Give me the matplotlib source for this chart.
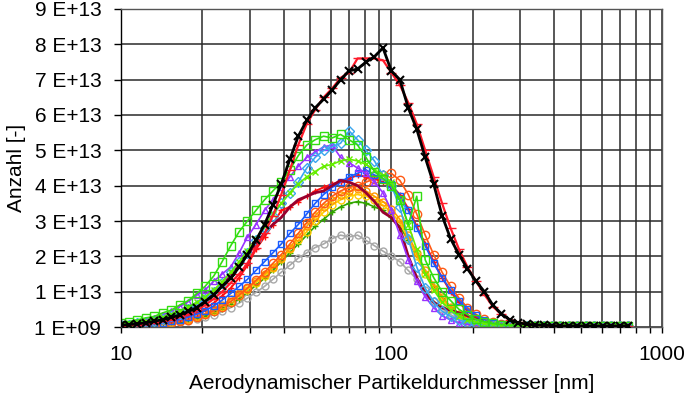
import matplotlib
matplotlib.use("Agg")
import matplotlib.pyplot as plt
from matplotlib.ticker import FixedLocator, NullFormatter, LogLocator

# Channel diameters [nm] (32 channels per decade, 10 .. 750 nm)
diam = [10.0, 10.7, 11.5, 12.4, 13.3, 14.3, 15.4, 16.5, 17.8, 19.1,
        20.5, 22.1, 23.7, 25.5, 27.4, 29.4, 31.6, 34.0, 36.5, 39.2,
        42.2, 45.3, 48.7, 52.3, 56.2, 60.4, 64.9, 69.8, 75.0, 80.6,
        86.6, 93.1, 100.0, 107.5, 115.5, 124.1, 133.4, 143.3, 154.0, 165.5,
        177.8, 191.1, 205.4, 220.7, 237.1, 254.8, 273.8, 294.3, 316.2, 339.8,
        365.2, 392.4, 421.7, 453.2, 487.0, 523.3, 562.3, 604.3, 649.4, 697.8,
        749.9]

# Counts in units of 1E13
black = [0.05, 0.07, 0.09, 0.12, 0.16, 0.21, 0.27, 0.34, 0.44, 0.55,
         0.72, 0.92, 1.15, 1.38, 1.70, 2.05, 2.45, 2.90, 3.45, 4.05,
         4.75, 5.40, 5.85, 6.20, 6.45, 6.70, 7.00, 7.25, 7.30, 7.50,
         7.65, 7.90, 7.25, 7.00, 6.20, 5.60, 4.80, 4.05, 3.15, 2.50,
         2.05, 1.65, 1.30, 1.00, 0.62, 0.38, 0.20, 0.12, 0.08, 0.06,
         0.05, 0.04, 0.03, 0.03, 0.03, 0.03, 0.03, 0.03, 0.03, 0.03,
         0.03]
red = [0.04, 0.05, 0.07, 0.09, 0.12, 0.16, 0.21, 0.28, 0.36, 0.47,
       0.62, 0.80, 1.00, 1.25, 1.50, 1.80, 2.25, 2.65, 3.15, 3.75,
       4.45, 5.15, 5.75, 6.15, 6.50, 6.75, 7.05, 7.20, 7.60, 7.60,
       7.60, 7.55, 7.20, 6.85, 6.35, 5.75, 5.00, 4.25, 3.50, 2.80,
       2.20, 1.70, 1.30, 0.92, 0.58, 0.36, 0.21, 0.13, 0.08, 0.06,
       0.05, 0.04, 0.03, 0.03, 0.03, 0.03, 0.03, 0.03, 0.03, 0.03,
       0.03]
green_sq = [0.12, 0.15, 0.20, 0.26, 0.30, 0.40, 0.48, 0.62, 0.75, 0.95,
            1.15, 1.45, 1.85, 2.30, 2.70, 3.00, 3.30, 3.60, 3.85, 4.10,
            4.45, 4.85, 5.15, 5.30, 5.40, 5.35, 5.45, 5.30, 5.15, 4.80,
            4.40, 4.20, 4.00, 3.60, 2.90, 3.70, 1.90, 1.40, 1.00, 0.75,
            0.50, 0.35, 0.22, 0.15, 0.10, 0.07, 0.05, 0.04, 0.04, 0.04,
            0.04, 0.04, 0.04, 0.04, 0.04, 0.04, 0.04, 0.04, 0.04, 0.04,
            0.04]
light_blue = [0.05, 0.07, 0.10, 0.13, 0.17, 0.22, 0.30, 0.38, 0.50, 0.63,
              0.80, 1.00, 1.25, 1.55, 1.85, 2.10, 2.45, 2.80, 3.15, 3.50,
              3.80, 4.10, 4.50, 4.80, 5.00, 5.10, 5.20, 5.55, 5.30, 5.00,
              4.70, 4.30, 4.00, 3.40, 2.50, 1.70, 1.10, 0.70, 0.45, 0.30,
              0.20, 0.12, 0.08, 0.05, 0.04, 0.03, 0.03, 0.03, 0.03, 0.03,
              0.03, 0.03, 0.03, 0.03, 0.03, 0.03, 0.03, 0.03, 0.03, 0.03,
              0.03]
purple = [0.06, 0.10, 0.14, 0.20, 0.26, 0.34, 0.44, 0.58, 0.72, 0.90,
          1.05, 1.30, 1.50, 1.70, 2.10, 2.55, 2.90, 3.30, 3.60, 3.95,
          4.25, 4.55, 4.80, 4.95, 5.10, 5.15, 4.80, 4.65, 4.50, 4.35,
          4.10, 3.80, 3.30, 2.60, 1.90, 1.30, 0.85, 0.55, 0.32, 0.20,
          0.12, 0.08, 0.05, 0.03, 0.03, 0.03, 0.03, 0.03, 0.03, 0.03,
          0.03, 0.03, 0.03, 0.03, 0.03, 0.03, 0.03, 0.03, 0.03, 0.03,
          0.03]
lime = [0.08, 0.10, 0.13, 0.17, 0.22, 0.28, 0.36, 0.45, 0.56, 0.70,
        0.85, 1.05, 1.28, 1.55, 1.85, 2.15, 2.50, 2.85, 3.20, 3.50,
        3.80, 4.05, 4.25, 4.40, 4.55, 4.60, 4.70, 4.75, 4.70, 4.60,
        4.45, 4.30, 4.10, 3.60, 2.90, 2.20, 1.50, 1.05, 0.70, 0.48,
        0.32, 0.20, 0.14, 0.10, 0.08, 0.06, 0.05, 0.05, 0.05, 0.05,
        0.05, 0.05, 0.05, 0.05, 0.05, 0.05, 0.05, 0.05, 0.05, 0.05,
        0.05]
blue_sq = [0.03, 0.04, 0.05, 0.07, 0.09, 0.12, 0.16, 0.21, 0.28, 0.36,
           0.46, 0.60, 0.76, 0.95, 1.15, 1.35, 1.60, 1.85, 2.10, 2.35,
           2.65, 2.90, 3.20, 3.50, 3.75, 3.95, 4.10, 4.25, 4.35, 4.45,
           4.30, 4.20, 4.05, 3.70, 3.30, 2.80, 2.30, 1.80, 1.40, 1.05,
           0.75, 0.50, 0.33, 0.20, 0.12, 0.08, 0.05, 0.04, 0.04, 0.04,
           0.04, 0.04, 0.04, 0.04, 0.04, 0.04, 0.04, 0.04, 0.04, 0.04,
           0.04]
orange_red = [0.02, 0.03, 0.04, 0.05, 0.07, 0.09, 0.12, 0.16, 0.21, 0.28,
              0.36, 0.46, 0.58, 0.72, 0.90, 1.10, 1.32, 1.55, 1.80, 2.05,
              2.35, 2.65, 2.95, 3.25, 3.50, 3.70, 3.85, 3.95, 4.00, 4.10,
              4.20, 4.30, 4.35, 4.15, 3.75, 3.20, 2.60, 2.05, 1.55, 1.15,
              0.82, 0.55, 0.36, 0.22, 0.14, 0.09, 0.06, 0.04, 0.04, 0.04,
              0.04, 0.04, 0.04, 0.04, 0.04, 0.04, 0.04, 0.04, 0.04, 0.04,
              0.04]
red_plus = [0.03, 0.04, 0.05, 0.07, 0.10, 0.13, 0.17, 0.23, 0.30, 0.40,
            0.52, 0.68, 0.88, 1.10, 1.40, 1.75, 2.20, 2.55, 2.90, 3.30,
            3.40, 3.55, 3.70, 3.85, 3.95, 4.05, 4.10, 4.20, 4.30, 4.25,
            4.20, 4.10, 4.00, 3.75, 3.35, 2.85, 2.35, 1.85, 1.40, 1.00,
            0.70, 0.45, 0.28, 0.17, 0.10, 0.06, 0.04, 0.04, 0.04, 0.04,
            0.04, 0.04, 0.04, 0.04, 0.04, 0.04, 0.04, 0.04, 0.04, 0.04,
            0.04]
maroon = [0.08, 0.10, 0.12, 0.15, 0.19, 0.24, 0.30, 0.38, 0.48, 0.60,
          0.75, 0.95, 1.20, 1.45, 1.75, 2.05, 2.35, 2.65, 2.90, 3.10,
          3.40, 3.60, 3.70, 3.80, 3.85, 4.00, 4.15, 4.10, 4.00, 3.80,
          3.55, 3.25, 3.10, 2.80, 2.00, 1.40, 0.95, 0.70, 0.55, 0.47,
          0.40, 0.32, 0.22, 0.15, 0.10, 0.07, 0.05, 0.05, 0.05, 0.05,
          0.05, 0.05, 0.05, 0.05, 0.05, 0.05, 0.05, 0.05, 0.05, 0.05,
          0.05]
orange = [0.02, 0.03, 0.04, 0.05, 0.07, 0.10, 0.13, 0.17, 0.22, 0.30,
          0.38, 0.50, 0.62, 0.78, 0.95, 1.10, 1.30, 1.50, 1.70, 1.95,
          2.25, 2.55, 2.85, 3.15, 3.40, 3.60, 3.75, 3.85, 3.90, 3.85,
          3.70, 3.55, 3.35, 3.05, 2.60, 2.10, 1.60, 1.20, 0.85, 0.58,
          0.38, 0.25, 0.16, 0.10, 0.07, 0.05, 0.05, 0.05, 0.05, 0.05,
          0.05, 0.05, 0.05, 0.05, 0.05, 0.05, 0.05, 0.05, 0.05, 0.05,
          0.05]
yellow = [0.02, 0.03, 0.04, 0.05, 0.07, 0.09, 0.12, 0.16, 0.21, 0.28,
          0.36, 0.46, 0.58, 0.72, 0.88, 1.05, 1.25, 1.45, 1.68, 1.92,
          2.20, 2.45, 2.70, 3.00, 3.25, 3.45, 3.60, 3.70, 3.75, 3.70,
          3.60, 3.45, 3.25, 2.95, 2.50, 2.00, 1.50, 1.10, 0.78, 0.52,
          0.34, 0.22, 0.14, 0.09, 0.06, 0.04, 0.04, 0.04, 0.04, 0.04,
          0.04, 0.04, 0.04, 0.04, 0.04, 0.04, 0.04, 0.04, 0.04, 0.04,
          0.04]
dark_green = [0.02, 0.03, 0.04, 0.05, 0.06, 0.08, 0.11, 0.14, 0.19, 0.25,
              0.32, 0.41, 0.52, 0.65, 0.80, 0.98, 1.18, 1.38, 1.60, 1.85,
              2.10, 2.35, 2.60, 2.85, 3.05, 3.25, 3.40, 3.50, 3.55, 3.50,
              3.40, 3.30, 3.10, 2.85, 2.45, 2.00, 1.55, 1.15, 0.82, 0.56,
              0.38, 0.25, 0.17, 0.11, 0.08, 0.06, 0.06, 0.06, 0.06, 0.06,
              0.06, 0.06, 0.06, 0.06, 0.06, 0.06, 0.06, 0.06, 0.06, 0.06,
              0.06]
gray = [0.02, 0.03, 0.04, 0.05, 0.06, 0.08, 0.10, 0.13, 0.17, 0.22,
        0.28, 0.35, 0.44, 0.55, 0.68, 0.82, 0.98, 1.15, 1.35, 1.55,
        1.75, 1.95, 2.10, 2.25, 2.35, 2.50, 2.60, 2.55, 2.60, 2.45,
        2.30, 2.15, 2.00, 1.85, 1.60, 1.35, 1.05, 0.75, 0.52, 0.35,
        0.22, 0.14, 0.09, 0.06, 0.04, 0.04, 0.04, 0.04, 0.04, 0.04,
        0.04, 0.04, 0.04, 0.04, 0.04, 0.04, 0.04, 0.04, 0.04, 0.04,
        0.04]

y_ticks = [0, 1, 2, 3, 4, 5, 6, 7, 8, 9]
y_labels = ["1 E+09", "1 E+13", "2 E+13", "3 E+13", "4 E+13",
            "5 E+13", "6 E+13", "7 E+13", "8 E+13", "9 E+13"]
x_label = "Aerodynamischer Partikeldurchmesser [nm]"
y_label = "Anzahl [-]"

plt.rcParams['font.family'] = ['Liberation Sans', 'DejaVu Sans']

fig = plt.figure(figsize=(6.85, 3.96), dpi=100)
ax = fig.add_axes([0.1762, 0.1742, 0.7902, 0.8031])

S = 1e13
def scale(v):
    return [a * S for a in v]

series = [
    (gray,       '#a8a8a8', 'o', 1.2, 5, 'none'),
    (dark_green, '#33a600', '+', 1.2, 5, None),
    (yellow,     '#ffcc00', 'o', 1.2, 5, 'none'),
    (orange,     '#ff9900', 'o', 1.2, 5, 'none'),
    (orange_red, '#ff5a14', 'o', 1.2, 6, 'none'),
    (red_plus,   '#ff1010', '+', 1.4, 5, None),
    (blue_sq,    '#1a5cff', 's', 1.2, 5, 'none'),
    (maroon,     '#99002e', '',  2.0, 0, None),
    (purple,     '#9933ff', '^', 1.2, 5, 'none'),
    (light_blue, '#3aa6ee', 'D', 1.2, 5, 'none'),
    (lime,       '#66ee00', 'x', 1.2, 4, None),
    (green_sq,   '#33dd11', 's', 1.2, 6, 'none'),
    (red,        '#ff1a2a', '_', 1.6, 7, None),
]
for vals, col, mk, lw, ms, fs in series:
    kw = dict(color=col, lw=lw, marker=mk if mk else None, ms=ms, mew=1.0)
    if fs == 'none':
        kw['mfc'] = 'none'
    ax.plot(diam, scale(vals), **kw)
ax.plot(diam, scale(black), color='black', lw=2.0, marker='x', ms=6, mew=1.5, zorder=5)

ax.set_xscale('log')
ax.set_xlim(10, 1000)
ax.set_ylim(0, 9e13)
ax.set_yticks([t * S for t in y_ticks])
ax.set_yticklabels(y_labels)
ax.xaxis.set_major_locator(FixedLocator([10, 100, 1000]))
ax.set_xticklabels(['10', '100', '1000'])
ax.xaxis.set_minor_locator(LogLocator(base=10, subs=range(2, 10)))
ax.xaxis.set_minor_formatter(NullFormatter())

ax.grid(True, which='both', axis='x', color='#2a2a2a', lw=1.1)
ax.grid(True, which='major', axis='y', color='#2a2a2a', lw=1.1)
ax.set_axisbelow(True)
for sp in ax.spines.values():
    sp.set_color('#555555')
    sp.set_linewidth(1.0)
ax.spines['left'].set_color('black')

fs_all = 15
ax.tick_params(axis='y', which='major', length=5, width=1, pad=9, labelsize=fs_all, direction='out')
ax.tick_params(axis='x', which='major', length=4, width=1, pad=9, labelsize=fs_all, direction='out')
ax.tick_params(axis='x', which='minor', length=4, width=1, direction='out')

ax.set_xlabel(x_label, fontsize=fs_all, labelpad=7)
ax.set_ylabel(y_label, fontsize=fs_all, labelpad=6)

fig.savefig('out.png', dpi=100)
